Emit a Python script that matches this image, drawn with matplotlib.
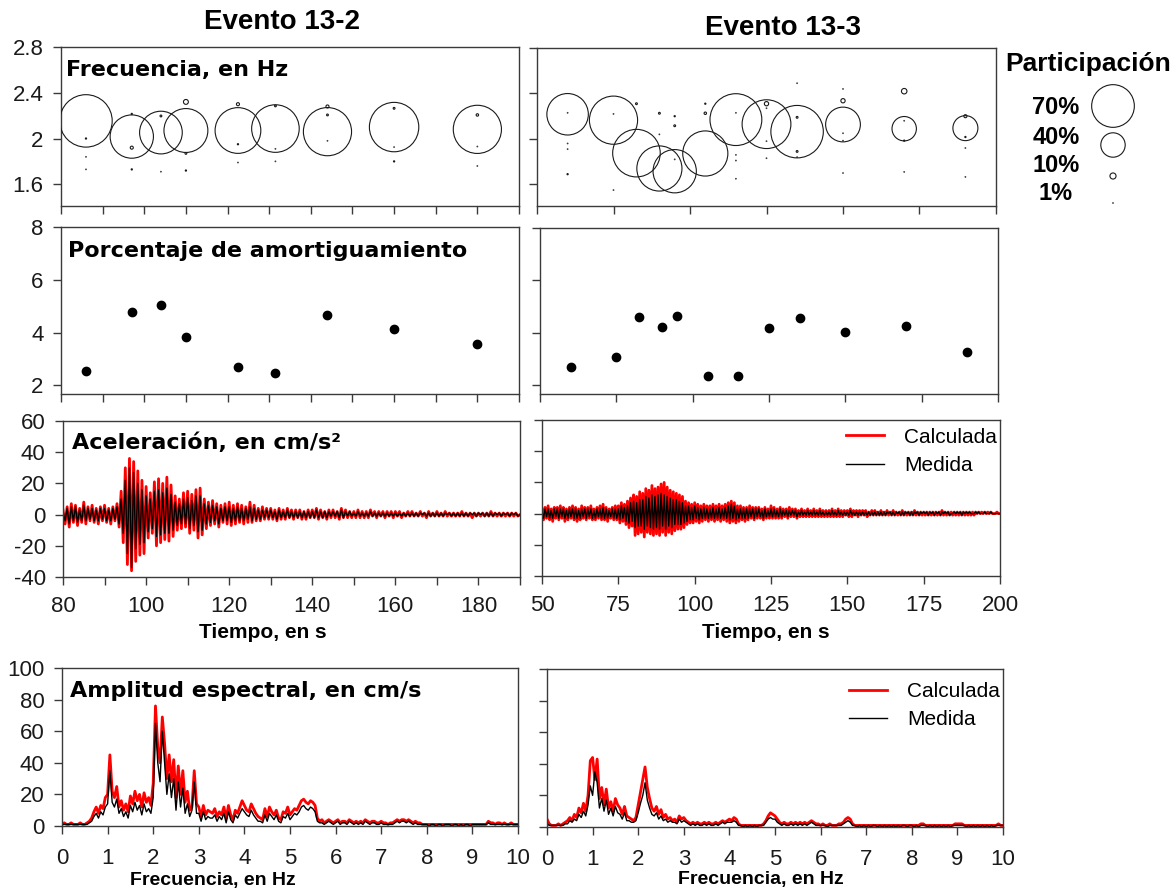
import numpy as np
import matplotlib
matplotlib.use("Agg")
import matplotlib.pyplot as plt

plt.rcParams["font.family"] = ["Liberation Sans", "DejaVu Sans"]
plt.rcParams["axes.unicode_minus"] = False

W, H, DPI = 1176, 892, 100

# ---------------- modal identification: event 13-2 ----------------
modes_132_t = [86, 86, 86, 86,
               97, 97, 97, 97,
               104, 104, 104,
               110, 110, 110, 110,
               122.5, 122.5, 122.5, 122.5,
               131.5, 131.5, 131.5, 131.5,
               144, 144, 144, 144,
               160, 160, 160, 160,
               180, 180, 180, 180]
modes_132_f = [2.154, 2.00, 1.84, 1.73,
               2.017, 2.215, 1.92, 1.73,
               2.052, 2.197, 1.71,
               2.07, 2.32, 1.87, 1.72,
               2.07, 2.30, 1.95, 1.79,
               2.087, 2.285, 1.91, 1.80,
               2.06, 2.28, 2.206, 1.98,
               2.10, 2.264, 1.925, 1.80,
               2.08, 2.206, 1.93, 1.76]
modes_132_p = [86, 2, 1, 1,
               71, 2, 5, 2,
               70, 3, 1,
               72, 8, 3, 2,
               75, 5, 2, 1,
               78, 3, 1, 1,
               79, 5, 3, 1,
               81, 3, 1, 2,
               79, 4, 1, 1]

damp_132_t = [86, 97, 104, 110, 122.5, 131.5, 144, 160, 180]
damp_132_v = [2.56, 4.78, 5.05, 3.82, 2.69, 2.45, 4.66, 4.13, 3.57]

# ---------------- modal identification: event 13-3 ----------------
modes_133_t = [60, 60, 60, 60, 60,
               75, 75, 75,
               82.5, 82.5,
               90, 90, 90,
               95, 95, 95, 95,
               105, 105, 105,
               115, 115, 115, 115, 115,
               125, 125, 125, 125, 125,
               135, 135, 135, 135, 135,
               150, 150, 150, 150, 150, 150,
               170, 170, 170, 170, 170,
               190, 190, 190, 190, 190]
modes_133_f = [2.217, 2.23, 1.96, 1.91, 1.69,
               2.165, 2.22, 1.55,
               1.875, 2.31,
               1.74, 2.226, 2.04,
               1.716, 2.20, 2.116, 1.82,
               1.872, 2.31, 2.226,
               2.17, 2.23, 1.86, 1.81, 1.65,
               2.13, 2.31, 2.27, 1.98, 1.83,
               2.064, 2.49, 2.19, 1.89, 1.84,
               2.127, 2.44, 2.336, 2.05, 1.985, 1.70,
               2.09, 2.42, 2.16, 1.985, 1.71,
               2.095, 2.20, 2.017, 1.92, 1.666]
modes_133_p = [68, 1, 1, 1, 2,
               79, 1, 1,
               78, 3,
               74, 3, 1,
               71, 2, 3, 1,
               74, 2, 4,
               85, 1, 1, 1, 1,
               80, 7, 1, 1, 1,
               86, 1, 3, 3, 1,
               57, 1, 7, 1, 1, 1,
               40, 9, 1, 2, 1,
               41, 5, 2, 1, 1]

damp_133_t = [60, 75, 82.5, 90, 95, 105, 115, 125, 135, 150, 170, 190]
damp_133_v = [2.69, 3.07, 4.61, 4.23, 4.63, 2.37, 2.34, 4.17, 4.55, 4.02, 4.25, 3.26]

legend_levels = [70, 40, 10, 1]
legend_labels = ["70%", "40%", "10%", "1%"]

# ---------------- accelerations (cm/s2), 0.5 s samples ----------------
acc_dt = 0.5
acc_132_t0 = 80.0
acc_132_calc = [
    3, -6, 5, -8, 7, -5, 6, -7, 4, -5,
    8, -6, 5, -4, 6, -5, 4, -6, 5, -4,
    6, -5, 4, -6, 5, -4, 7, -8, 15, -18,
    30, -32, 36, -36, 34, -30, 28, -26, 22, -25,
    18, -15, 14, -12, 21, -20, 23, -18, 20, -16,
    24, -17, 19, -14, 12, -10, 10, -9, 14, -8,
    15, -12, 13, -10, 16, -15, 17, -13, 10, -9,
    8, -7, 9, -6, 7, -8, 6, -5, 7, -6,
    8, -7, 6, -6, 7, -5, 6, -6, 5, -5,
    8, -5, 6, -4, 4, -4, 5, -3, 4, -3,
    4, -3, 3, -4, 4, -3, 3, -3, 4, -2,
    3, -3, 3, -2, 3, -3, 2, -3, 3, -2,
    3, -2, 4, -3, 3, -2, 2, -3, 3, -2,
    3, -2, 2, -3, 4, -2, 3, -2, 2, -2,
    2, -2, 3, -2, 2, -2, 2, -2, 3, -1,
    2, -2, 2, -1, 2, -2, 2, -1, 2, -2,
    2, -1, 2, -2, 1, -1, 2, -1, 2, -1,
    1, -1, 2, -1, 1, -2, 2, -1, 1, -1,
    2, -1, 1, -1, 2, -1, 1, -1, 1, -1,
    1, -1, 2, -1, 1, -1, 1, -2, 1, -1,
    1, -1, 1, -1, 1, -1, 2, -1, 1, -1,
    1, -1, 1, -1, 1, -1, 1, -1, 1, -1,
    0]
acc_132_meas = [
    2, -4, 4, -6, 5, -4, 5, -5, 3, -4,
    6, -4, 4, -3, 4, -4, 3, -4, 4, -3,
    4, -4, 3, -4, 4, -3, 5, -6, 10, -12,
    22, -25, 30, -34, 27, -22, 20, -19, 16, -18,
    12, -11, 10, -9, 15, -14, 16, -13, 14, -12,
    17, -12, 13, -10, 8, -7, 7, -6, 10, -6,
    11, -9, 9, -7, 12, -11, 12, -10, 7, -6,
    6, -5, 6, -4, 5, -6, 4, -4, 5, -4,
    5, -5, 4, -4, 5, -4, 4, -4, 4, -3,
    5, -4, 4, -3, 3, -3, 3, -2, 3, -2,
    3, -2, 2, -3, 3, -2, 2, -2, 3, -2,
    2, -2, 2, -2, 2, -2, 2, -2, 2, -2,
    2, -2, 3, -2, 2, -2, 2, -2, 2, -1,
    2, -1, 2, -2, 3, -2, 2, -1, 2, -1,
    1, -1, 2, -1, 1, -1, 1, -1, 2, -1,
    1, -1, 1, -1, 1, -1, 1, -1, 1, -1,
    1, -1, 1, -1, 1, -1, 1, -1, 1, -1,
    1, -1, 1, 0, 1, -1, 1, -1, 1, -1,
    1, -1, 1, -1, 1, 0, 1, -1, 1, -1,
    1, -1, 1, -1, 1, -1, 1, 0, 1, -1,
    1, 0, 1, -1, 1, -1, 1, -1, 1, 0,
    1, -1, 1, 0, 1, -1, 1, 0, 1, -1,
    0]

acc_133_t0 = 50.0
acc_133_calc = [
    3, -4, 4, -3, 5, -4, 3, -5, 4, -3,
    4, -4, 5, -3, 4, -5, 3, -4, 4, -3,
    5, -4, 4, -5, 3, -4, 5, -3, 4, -4,
    4, -3, 5, -4, 3, -4, 4, -3, 5, -4,
    6, -4, 4, -5, 3, -3, 4, -4, 5, -4,
    5, -6, 7, -5, 6, -7, 8, -9, 10, -8,
    12, -14, 11, -13, 14, -12, 13, -15, 16, -12,
    15, -13, 18, -14, 16, -13, 17, -14, 19, -12,
    20, -14, 17, -12, 15, -13, 14, -11, 13, -10,
    12, -10, 11, -9, 8, -7, 7, -6, 6, -6,
    7, -5, 6, -6, 5, -5, 6, -4, 5, -5,
    5, -4, 6, -5, 5, -4, 6, -5, 5, -4,
    6, -5, 7, -6, 8, -5, 7, -6, 5, -5,
    5, -4, 4, -5, 4, -4, 5, -3, 4, -4,
    4, -3, 4, -3, 3, -4, 4, -3, 3, -3,
    5, -3, 4, -3, 3, -3, 4, -3, 3, -2,
    3, -3, 4, -2, 3, -2, 3, -3, 2, -2,
    3, -2, 2, -2, 3, -2, 2, -2, 3, -2,
    2, -2, 3, -2, 2, -2, 2, -2, 2, -2,
    3, -2, 2, -2, 3, -2, 2, -2, 2, -1,
    2, -2, 3, -2, 2, -1, 2, -2, 2, -1,
    2, -1, 2, -2, 1, -1, 2, -1, 2, -1,
    1, -1, 2, -1, 1, -1, 2, -1, 1, -1,
    2, -1, 1, -1, 1, -1, 2, -1, 1, -1,
    1, -1, 1, -1, 2, -1, 1, -1, 1, -1,
    1, -1, 1, -1, 1, -1, 1, -1, 1, -1,
    1, -1, 2, -1, 1, -1, 1, -1, 1, -1,
    1, -1, 1, -1, 1, -1, 1, -1, 1, -1,
    1, -1, 1, -1, 1, 0, 1, 0, 1, 0,
    1, 0, 1, 0, 1, 0, 0, 0, 1, 0,
    0]
acc_133_meas = [
    2, -3, 3, -2, 3, -3, 2, -3, 3, -2,
    3, -3, 3, -2, 3, -3, 2, -3, 3, -2,
    3, -3, 3, -3, 2, -3, 3, -2, 3, -3,
    3, -2, 3, -3, 2, -3, 3, -2, 3, -3,
    4, -3, 3, -3, 2, -2, 3, -3, 3, -3,
    3, -4, 5, -3, 4, -5, 5, -6, 7, -5,
    8, -9, 7, -8, 9, -8, 9, -10, 11, -8,
    10, -9, 12, -10, 11, -9, 12, -10, 13, -8,
    12, -10, 11, -8, 10, -9, 9, -7, 9, -7,
    8, -7, 7, -6, 5, -5, 5, -4, 4, -4,
    5, -3, 4, -4, 3, -3, 4, -3, 3, -3,
    3, -3, 4, -3, 3, -3, 4, -3, 3, -3,
    4, -3, 5, -4, 6, -3, 5, -4, 3, -3,
    3, -3, 3, -3, 3, -3, 3, -2, 3, -3,
    3, -2, 3, -2, 2, -3, 3, -2, 2, -2,
    3, -2, 3, -2, 2, -2, 3, -2, 2, -1,
    2, -2, 2, -1, 2, -1, 2, -2, 1, -1,
    2, -1, 1, -1, 2, -1, 1, -1, 2, -1,
    1, -1, 2, -1, 1, -1, 1, -1, 1, -1,
    2, -1, 1, -1, 2, -1, 1, -1, 1, -1,
    1, -1, 2, -1, 1, -1, 1, -1, 1, -1,
    1, -1, 1, -1, 1, -1, 1, -1, 1, -1,
    1, -1, 1, -1, 1, -1, 1, 0, 1, -1,
    1, -1, 1, 0, 1, -1, 1, -1, 1, 0,
    1, -1, 1, -1, 1, 0, 1, -1, 1, 0,
    1, 0, 1, -1, 1, 0, 1, -1, 1, 0,
    1, -1, 1, 0, 1, 0, 1, -1, 0, 0,
    1, 0, 1, 0, 1, -1, 1, 0, 1, 0,
    1, 0, 0, 0, 1, 0, 1, 0, 0, 0,
    1, 0, 0, 0, 1, 0, 0, 0, 0, 0,
    0]

# ---------------- Fourier amplitude spectra (cm/s), 0.05 Hz steps ----------------
spec_df = 0.05
spec_132_calc = [
    1, 2, 1, 1, 2, 1, 1, 1, 2, 1,
    1, 2, 3, 5, 9, 12, 8, 13, 11, 18,
    20, 45, 22, 18, 25, 12, 16, 10, 14, 9,
    19, 14, 22, 16, 20, 12, 21, 15, 18, 13,
    27, 76, 50, 40, 69, 52, 30, 45, 28, 42,
    18, 38, 20, 35, 15, 22, 10, 12, 35, 14,
    12, 6, 13, 7, 10, 9, 8, 11, 6, 9,
    7, 12, 5, 13, 7, 4, 10, 8, 12, 16,
    13, 10, 9, 14, 11, 8, 6, 5, 4, 11,
    6, 12, 9, 7, 10, 5, 4, 9, 8, 12,
    7, 9, 11, 10, 13, 16, 17, 15, 14, 16,
    15, 13, 5, 3, 4, 2, 3, 4, 3, 2,
    3, 4, 2, 3, 3, 2, 4, 3, 2, 3,
    2, 3, 2, 4, 3, 2, 3, 3, 2, 2,
    3, 2, 2, 1, 2, 2, 3, 4, 3, 4,
    4, 3, 4, 3, 2, 3, 2, 2, 1, 1,
    1, 1, 1, 1, 1, 1, 1, 1, 1, 1,
    1, 1, 1, 1, 1, 1, 1, 1, 1, 1,
    1, 1, 1, 1, 1, 1, 1, 3, 2, 2,
    1, 2, 2, 1, 2, 1, 1, 2, 1, 1,
    1]
spec_132_meas = [
    1, 1, 1, 1, 1, 1, 1, 1, 1, 1,
    1, 1, 2, 3, 6, 8, 5, 9, 7, 12,
    14, 35, 15, 12, 17, 8, 11, 6, 9, 5,
    13, 9, 15, 10, 13, 7, 14, 9, 11, 8,
    18, 65, 40, 28, 60, 40, 20, 33, 18, 30,
    10, 28, 12, 24, 8, 14, 6, 10, 28, 8,
    8, 3, 9, 4, 6, 5, 5, 7, 3, 6,
    4, 8, 2, 9, 4, 2, 7, 5, 8, 11,
    9, 7, 6, 10, 7, 5, 3, 3, 2, 7,
    3, 8, 6, 4, 7, 3, 2, 6, 5, 8,
    4, 6, 8, 7, 9, 12, 13, 11, 10, 12,
    11, 9, 3, 2, 2, 1, 2, 3, 2, 1,
    2, 3, 1, 2, 2, 1, 3, 2, 1, 2,
    1, 2, 1, 3, 2, 1, 2, 2, 1, 1,
    2, 1, 1, 1, 1, 1, 2, 3, 2, 3,
    3, 2, 3, 2, 1, 2, 1, 1, 1, 1,
    1, 0, 1, 1, 0, 1, 1, 0, 1, 1,
    1, 0, 1, 1, 0, 1, 0, 1, 1, 0,
    1, 1, 1, 1, 1, 1, 1, 2, 1, 1,
    1, 1, 1, 1, 1, 1, 1, 1, 1, 1,
    1]
spec_133_calc = [
    5, 2, 1, 1, 1, 2, 1, 2, 3, 4,
    6, 4, 8, 6, 12, 9, 15, 10, 20, 42,
    44, 30, 43, 18, 25, 14, 24, 12, 16, 10,
    18, 14, 12, 8, 13, 7, 6, 5, 4, 6,
    14, 22, 30, 38, 25, 18, 12, 10, 13, 8,
    11, 6, 8, 5, 6, 4, 5, 3, 7, 5,
    6, 4, 3, 2, 3, 2, 3, 2, 2, 3,
    2, 3, 2, 2, 3, 2, 3, 4, 3, 4,
    5, 4, 6, 5, 2, 1, 1, 1, 1, 1,
    1, 1, 1, 1, 1, 2, 4, 7, 9, 8,
    7, 5, 3, 2, 3, 2, 2, 3, 2, 3,
    2, 3, 2, 3, 2, 3, 4, 3, 2, 2,
    1, 2, 1, 1, 2, 1, 1, 1, 2, 2,
    3, 5, 6, 5, 2, 1, 1, 1, 1, 1,
    1, 1, 1, 1, 1, 1, 1, 1, 1, 1,
    1, 1, 1, 1, 1, 1, 1, 1, 1, 1,
    1, 1, 1, 1, 2, 2, 1, 1, 1, 1,
    1, 1, 1, 1, 1, 1, 1, 1, 1, 2,
    2, 2, 2, 1, 1, 1, 1, 1, 1, 1,
    1, 1, 1, 1, 1, 1, 1, 1, 2, 1,
    1]
spec_133_meas = [
    2, 1, 1, 1, 1, 1, 1, 1, 2, 2,
    4, 3, 5, 4, 8, 6, 10, 7, 14, 26,
    20, 35, 28, 12, 18, 10, 17, 8, 12, 7,
    13, 9, 8, 5, 9, 4, 4, 3, 3, 4,
    9, 15, 20, 28, 17, 12, 8, 7, 9, 5,
    7, 4, 5, 3, 4, 3, 3, 2, 5, 3,
    4, 3, 2, 1, 2, 1, 2, 1, 1, 2,
    1, 2, 1, 1, 2, 1, 2, 3, 2, 3,
    3, 3, 4, 3, 1, 1, 0, 1, 0, 1,
    0, 1, 0, 1, 1, 1, 3, 5, 6, 5,
    5, 3, 2, 1, 2, 1, 1, 2, 1, 2,
    1, 2, 1, 2, 1, 2, 3, 2, 1, 1,
    1, 1, 1, 0, 1, 1, 1, 1, 1, 1,
    2, 3, 4, 3, 1, 1, 0, 1, 0, 1,
    0, 1, 0, 1, 1, 0, 1, 0, 1, 0,
    1, 0, 1, 0, 1, 0, 1, 1, 0, 1,
    1, 0, 1, 0, 1, 1, 1, 0, 1, 0,
    1, 0, 1, 0, 1, 0, 1, 0, 1, 1,
    1, 1, 1, 1, 0, 1, 0, 1, 0, 1,
    0, 1, 0, 1, 0, 1, 0, 1, 1, 1,
    1]

# ---------------- drawing helpers ----------------
SPINE = "#3a3a3a"
RED = "#ff0000"
TICK_FS = 16
RED_LW, BLACK_LW = 2.0, 1.0
PANEL_FONT = dict(family="DejaVu Sans", weight="bold", size=16)


def px_box(x0, y0, x1, y1):
    """Axes rectangle from pixel edges (origin at top-left)."""
    return [x0 / W, 1 - y1 / H, (x1 - x0) / W, (y1 - y0) / H]


def fig_xy(x, y):
    return x / W, 1 - y / H


def bubble_area(p):
    """Marker area (pt^2): circle radius grows linearly with participation."""
    return (0.439 * np.asarray(p, float)) ** 2


def style(ax, xlim, xticks, ylim, yticks, ylabels=None, xlabels=False,
          xminor=None, xpad=7.5):
    ax.set_xlim(xlim)
    ax.set_ylim(ylim)
    ax.set_xticks(xticks)
    if xminor is not None:
        ax.set_xticks(xminor, minor=True)
    ax.set_yticks(yticks)
    if ylabels is None:
        ax.tick_params(labelleft=False)
    else:
        ax.set_yticklabels(ylabels)
    if not xlabels:
        ax.tick_params(labelbottom=False)
    ax.tick_params(which="both", direction="out", length=6, width=1.0,
                   color=SPINE, labelsize=TICK_FS, labelcolor="#1a1a1a")
    ax.tick_params(axis="x", which="both", pad=xpad)
    ax.tick_params(axis="y", which="both", pad=6.5)
    for s in ax.spines.values():
        s.set_color(SPINE)
        s.set_linewidth(1.0)


def bottom_label(ax, text, xfrac, yfrac, size):
    ax.set_xlabel(text, fontsize=size, fontweight="bold")
    ax.xaxis.set_label_coords(xfrac, yfrac)
    ax.xaxis.label.set_verticalalignment("center")


def series_x(t0, dt, values):
    return t0 + dt * np.arange(len(values))


fig = plt.figure(figsize=(W / DPI, H / DPI), dpi=DPI)

# ---- axes ----
ax_f1 = fig.add_axes(px_box(61, 47, 519, 206))
ax_f2 = fig.add_axes(px_box(537, 48, 996, 206))
ax_d1 = fig.add_axes(px_box(61, 227, 519, 394))
ax_d2 = fig.add_axes(px_box(540, 228, 998, 394))
ax_a1 = fig.add_axes(px_box(63, 421, 520, 577))
ax_a2 = fig.add_axes(px_box(542, 420, 1000, 576))
ax_s1 = fig.add_axes(px_box(62, 668, 518, 826))
ax_s2 = fig.add_axes(px_box(547, 669, 1003, 827))

xt1 = np.arange(80, 191, 10)
xt2 = np.arange(50, 201, 25)
ytf = [1.6, 2.0, 2.4, 2.8]
ytf_lab = ["1.6", "2", "2.4", "2.8"]
ytd = [2, 4, 6, 8]
yta = np.arange(-40, 61, 20)
yts = np.arange(0, 101, 20)

# frequency bubbles
for ax, t, f, p in [(ax_f1, modes_132_t, modes_132_f, modes_132_p),
                    (ax_f2, modes_133_t, modes_133_f, modes_133_p)]:
    ax.scatter(t, f, s=bubble_area(p), facecolors="none",
               edgecolors="#1a1a1a", linewidths=0.8, zorder=3)
style(ax_f1, (80, 190), xt1, (1.41, 2.8), ytf, ytf_lab)
style(ax_f2, (50, 200), xt2, (1.41, 2.8), ytf)

# damping
for ax, t, v in [(ax_d1, damp_132_t, damp_132_v), (ax_d2, damp_133_t, damp_133_v)]:
    ax.plot(t, v, "o", color="black", markersize=6, linestyle="none", zorder=3)
style(ax_d1, (80, 190), xt1, (1.67, 8), ytd, [str(v) for v in ytd])
style(ax_d2, (50, 200), xt2, (1.67, 8), ytd)

# accelerations
ax_a1.plot(series_x(acc_132_t0, acc_dt, acc_132_calc), acc_132_calc,
           color=RED, lw=RED_LW, label="Calculada")
ax_a1.plot(series_x(acc_132_t0, acc_dt, acc_132_meas), acc_132_meas,
           color="black", lw=BLACK_LW, label="Medida")
ra, = ax_a2.plot(series_x(acc_133_t0, acc_dt, acc_133_calc), acc_133_calc,
                 color=RED, lw=RED_LW, label="Calculada")
ka, = ax_a2.plot(series_x(acc_133_t0, acc_dt, acc_133_meas), acc_133_meas,
                 color="black", lw=BLACK_LW, label="Medida")
style(ax_a1, (80, 190), np.arange(80, 181, 20), (-40, 60), yta,
      [str(v) for v in yta], xlabels=True, xminor=np.arange(90, 191, 20))
style(ax_a2, (50, 200), xt2, (-40, 60), yta, xlabels=True)
bottom_label(ax_a1, "Tiempo, en s", 0.438, -0.353, 15)
bottom_label(ax_a2, "Tiempo, en s", 0.489, -0.359, 15)

# spectra
ax_s1.plot(series_x(0.0, spec_df, spec_132_calc), spec_132_calc, color=RED, lw=RED_LW)
ax_s1.plot(series_x(0.0, spec_df, spec_132_meas), spec_132_meas, color="black", lw=BLACK_LW)
rs, = ax_s2.plot(series_x(0.0, spec_df, spec_133_calc), spec_133_calc,
                 color=RED, lw=RED_LW, label="Calculada")
ks, = ax_s2.plot(series_x(0.0, spec_df, spec_133_meas), spec_133_meas,
                 color="black", lw=BLACK_LW, label="Medida")
style(ax_s1, (0, 10), np.arange(0, 11), (0, 100), yts, [str(v) for v in yts],
      xlabels=True, xpad=10)
style(ax_s2, (0, 10), np.arange(0, 11), (0, 100), yts, xlabels=True, xpad=10)
bottom_label(ax_s1, "Frecuencia, en Hz", 0.331, -0.342, 14)
bottom_label(ax_s2, "Frecuencia, en Hz", 0.469, -0.335, 14)

# legends
leg_kw = dict(frameon=False, fontsize=15, handlelength=1.85, handletextpad=0.95,
              labelspacing=0.45, borderaxespad=0, borderpad=0.4, loc="upper right")
ax_a2.legend(handles=[ra, ka], bbox_to_anchor=(1.012, 1.005), **leg_kw)
ax_s2.legend(handles=[rs, ks], bbox_to_anchor=(1.012, 0.97), **leg_kw)

# panel captions
for (x, y), txt in [((66, 76), "Frecuencia, en Hz"),
                    ((68, 257), "Porcentaje de amortiguamiento"),
                    ((72, 449), "Aceleración, en cm/s²"),
                    ((70, 697), "Amplitud espectral, en cm/s")]:
    fig.text(*fig_xy(x, y), txt, ha="left", va="baseline", **PANEL_FONT)

# column headers
fig.text(*fig_xy(282, 22), "Evento 13-2", ha="center", va="center",
         fontsize=20, fontweight="bold")
fig.text(*fig_xy(783, 28), "Evento 13-3", ha="center", va="center",
         fontsize=20, fontweight="bold")

# participation key
ax_k = fig.add_axes(px_box(1000, 40, 1176, 220))
ax_k.set_xlim(1000, 1176)
ax_k.set_ylim(220, 40)
ax_k.axis("off")
key_rows_text = [107, 137, 165, 193]
key_rows_mark = [106, 145, 176, 203]
ax_k.text(1088, 64, "Participación", ha="center", va="center",
          fontsize=19, fontweight="bold")
ax_k.scatter([1113] * len(legend_levels), key_rows_mark, s=bubble_area(legend_levels),
             facecolors="none", edgecolors="#1a1a1a", linewidths=0.8, clip_on=False)
for yr, lab in zip(key_rows_text, legend_labels):
    ax_k.text(1056, yr, lab, ha="center", va="center", fontsize=17, fontweight="bold")

fig.savefig("out.png", dpi=DPI)
